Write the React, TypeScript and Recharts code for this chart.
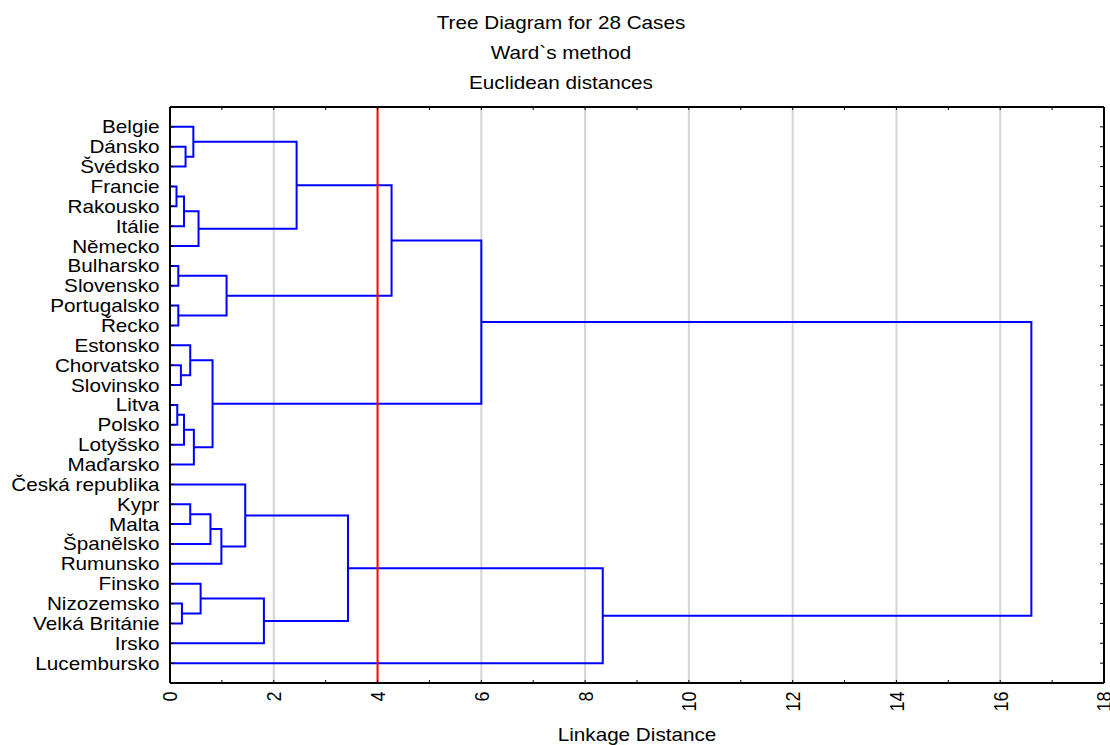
import React from 'react';
import { ComposedChart, Line, XAxis, YAxis, ReferenceLine } from 'recharts';

const leafNames = [
  'Belgie', 'Dánsko', 'Švédsko', 'Francie', 'Rakousko', 'Itálie', 'Německo',
  'Bulharsko', 'Slovensko', 'Portugalsko', 'Řecko', 'Estonsko', 'Chorvatsko',
  'Slovinsko', 'Litva', 'Polsko', 'Lotyšsko', 'Maďarsko', 'Česká republika',
  'Kypr', 'Malta', 'Španělsko', 'Rumunsko', 'Finsko', 'Nizozemsko',
  'Velká Británie', 'Irsko', 'Lucembursko',
];

// Merge steps: ids 0..27 are leaves, merge k creates node 28 + k
const mergeLeft = [3, 14, 9, 7, 12, 24, 28, 29, 1, 11, 19, 0, 35, 34, 23, 38, 37, 43, 31, 18, 42, 39, 47, 49, 51, 50, 52];
const mergeRight = [4, 15, 10, 8, 13, 25, 5, 16, 2, 32, 20, 36, 17, 6, 33, 21, 40, 22, 30, 45, 26, 41, 48, 46, 44, 27, 53];
const mergeHeight = [0.125, 0.14, 0.16, 0.16, 0.21, 0.23, 0.27, 0.27, 0.3, 0.39, 0.39, 0.45, 0.46, 0.55, 0.59, 0.78, 0.82, 0.99, 1.09, 1.45, 1.81, 2.44, 3.43, 4.27, 6.0, 8.34, 16.6];

const xTicks = [0, 1, 2, 3, 4, 5, 6, 7, 8, 9, 10, 11, 12, 13, 14, 15, 16, 17, 18];
const gridValues = [2, 6, 8, 10, 12, 14, 16];
const cutValue = 4;
const leafTicks = leafNames.map((_, i) => i);

const titleLines = ['Tree Diagram for 28 Cases', 'Ward`s method', 'Euclidean distances'];
const xTitle = 'Linkage Distance';

const nodeY: number[] = leafNames.map((_, i) => i);
const nodeH: number[] = leafNames.map(() => 0);
const links = mergeLeft.map((a, k) => {
  const b = mergeRight[k];
  const h = mergeHeight[k];
  const pts = [
    { x: nodeH[a], y: nodeY[a] },
    { x: h, y: nodeY[a] },
    { x: h, y: nodeY[b] },
    { x: nodeH[b], y: nodeY[b] },
  ];
  nodeY.push((nodeY[a] + nodeY[b]) / 2);
  nodeH.push(h);
  return pts;
});

const FONT = 'Liberation Sans, Arial, Helvetica, sans-serif';

const LeftTick = (props: any) => {
  const { x, y, payload } = props;
  return (
    <g>
      <line x1={x} y1={y} x2={x + 4} y2={y} stroke="#000" strokeWidth={1} />
      <text
        transform={`translate(${x - 10.5},${y + 6.5}) scale(1.15,1)`}
        textAnchor="end"
        fontSize={18}
        fontFamily={FONT}
        fill="#000"
      >
        {leafNames[payload.value]}
      </text>
    </g>
  );
};

const RightTick = (props: any) => {
  const { x, y } = props;
  return <line x1={x - 4} y1={y} x2={x} y2={y} stroke="#000" strokeWidth={1} />;
};

const BottomTick = (props: any) => {
  const { x, y, payload } = props;
  const v = payload.value;
  return (
    <g>
      <line x1={x} y1={y} x2={x} y2={y - 3} stroke="#000" strokeWidth={1} />
      {v % 2 === 0 ? (
        <text
          transform={`translate(${x},${y + 8.5}) rotate(-90) scale(1,1.15)`}
          textAnchor="end"
          dy="0.36em"
          fontSize={18}
          fontFamily={FONT}
          fill="#000"
        >
          {String(v)}
        </text>
      ) : null}
    </g>
  );
};

const TopTick = (props: any) => {
  const { x, y } = props;
  return <line x1={x} y1={y} x2={x} y2={y + 3} stroke="#000" strokeWidth={1} />;
};

const axisLineStyle = { stroke: '#000', strokeWidth: 2 };

export default function App() {
  return (
    <div style={{ position: 'absolute', left: 0, top: 0, width: 1110, height: 745, background: '#fff' }}>
      <ComposedChart width={1110} height={745} margin={{ top: 106, right: 0, bottom: 0, left: 0 }}>
        <XAxis
          type="number"
          dataKey="x"
          domain={[0, 18]}
          ticks={xTicks}
          interval={0}
          allowDataOverflow
          orientation="bottom"
          height={62}
          tickSize={0}
          tickMargin={0}
          tickLine={false}
          axisLine={axisLineStyle}
          tick={<BottomTick />}
        />
        <XAxis
          xAxisId="top"
          type="number"
          dataKey="x"
          domain={[0, 18]}
          ticks={xTicks}
          interval={0}
          allowDataOverflow
          orientation="top"
          height={1}
          tickSize={0}
          tickMargin={0}
          tickLine={false}
          axisLine={axisLineStyle}
          tick={<TopTick />}
        />
        <YAxis
          type="number"
          domain={[-1, 28]}
          reversed
          ticks={leafTicks}
          interval={0}
          allowDataOverflow
          width={170}
          tickSize={0}
          tickMargin={0}
          tickLine={false}
          axisLine={axisLineStyle}
          tick={<LeftTick />}
        />
        <YAxis
          yAxisId="right"
          orientation="right"
          type="number"
          domain={[-1, 28]}
          reversed
          ticks={leafTicks}
          interval={0}
          allowDataOverflow
          width={6}
          tickSize={0}
          tickMargin={0}
          tickLine={false}
          axisLine={axisLineStyle}
          tick={<RightTick />}
        />
        {gridValues.map((g) => (
          <ReferenceLine key={'g' + g} x={g} stroke="#d4d4d4" strokeWidth={2} />
        ))}
        {links.map((pts, i) => (
          <Line
            key={'l' + i}
            data={pts}
            dataKey="y"
            type="linear"
            stroke="#0000ff"
            strokeWidth={2}
            dot={false}
            activeDot={false}
            isAnimationActive={false}
          />
        ))}
        <ReferenceLine x={cutValue} stroke="#ff0000" strokeWidth={2} />
      </ComposedChart>
      <svg
        width={1110}
        height={745}
        style={{ position: 'absolute', left: 0, top: 0, pointerEvents: 'none' }}
      >
        {titleLines.map((t, i) => (
          <text
            key={t}
            transform={`translate(561,${[29, 59.3, 88.5][i]}) scale(1.15,1)`}
            textAnchor="middle"
            fontSize={18}
            fontFamily={FONT}
            fill="#000"
          >
            {t}
          </text>
        ))}
        <text
          transform="translate(637,741) scale(1.15,1)"
          textAnchor="middle"
          fontSize={18}
          fontFamily={FONT}
          fill="#000"
        >
          {xTitle}
        </text>
      </svg>
    </div>
  );
}
